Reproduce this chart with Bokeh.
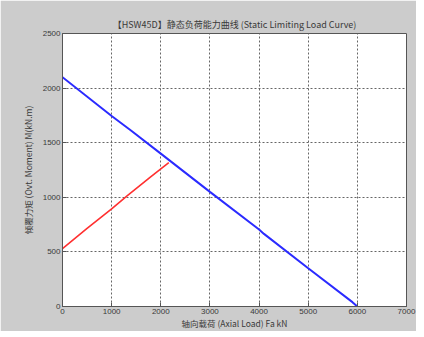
from bokeh.plotting import figure
from bokeh.models import FixedTicker, Range1d
from bokeh.embed import file_html
from bokeh.resources import INLINE

# data
limit_x = [0, 1000, 1400, 2000, 3000, 4000, 4100, 5000, 5900, 6000]
limit_y = [2100, 1745, 1610, 1400, 1050, 705, 665, 350, 40, 0]
load_x = [0, 500, 1000, 1320, 1800, 2163]
load_y = [530, 715, 895, 1015, 1190, 1318]
x_ticks = [0, 1000, 2000, 3000, 4000, 5000, 6000, 7000]
y_ticks = [0, 500, 1000, 1500, 2000, 2500]

title_text = "【HSW45D】静态负荷能力曲线 (Static Limiting Load Curve)"
x_label = "轴向载荷 (Axial Load) Fa kN"
y_label = "倾覆力矩 (Ovt. Moment) M(kN.m)"

FONT = "Noto Sans CJK SC"
TXT = "#3a3a3a"
BG = "#cccccc"

p = figure(frame_width=344, frame_height=273, output_backend="svg", toolbar_location=None,
           x_range=Range1d(0, 7000), y_range=Range1d(0, 2500),
           min_border_left=62, min_border_right=10, min_border_top=33, min_border_bottom=10,
           title=title_text)
p.background_fill_color = "white"
p.border_fill_color = BG
p.outline_line_color = "#555555"
p.outline_line_width = 1

p.title.align = "center"
p.title.text_font = FONT
p.title.text_font_size = "9px"
p.title.text_font_style = "normal"
p.title.text_color = TXT
p.title.offset = 0
p.title.standoff = 6

for ax, ticks in ((p.xaxis[0], x_ticks), (p.yaxis[0], y_ticks)):
    ax.ticker = FixedTicker(ticks=ticks)
    ax.major_tick_in = 4
    ax.major_tick_out = 0
    ax.minor_tick_line_color = None
    ax.axis_line_color = "#555555"
    ax.major_tick_line_color = "#555555"
    ax.major_label_text_font = "Liberation Sans"
    ax.major_label_text_font_size = "8px"
    ax.major_label_text_color = TXT
    ax.major_label_standoff = 2
    ax.axis_label_text_font = FONT
    ax.axis_label_text_font_size = "8.5px"
    ax.axis_label_text_font_style = "normal"
    ax.axis_label_text_color = TXT
    ax.axis_label_standoff = 0

p.xaxis[0].axis_label = x_label
p.yaxis[0].axis_label = y_label
p.yaxis[0].axis_label_standoff = 6

p.xgrid.ticker = FixedTicker(ticks=x_ticks)
p.ygrid.ticker = FixedTicker(ticks=y_ticks)
for g in (p.xgrid[0], p.ygrid[0]):
    g.grid_line_color = "#666666"
    g.grid_line_dash = "2 2"
    g.grid_line_width = 1

p.line(limit_x, limit_y, line_color="#2b2bff", line_width=2)
p.line(load_x, load_y, line_color="#ff3030", line_width=1.6)

open("out.html", "w").write(file_html(p, INLINE))
